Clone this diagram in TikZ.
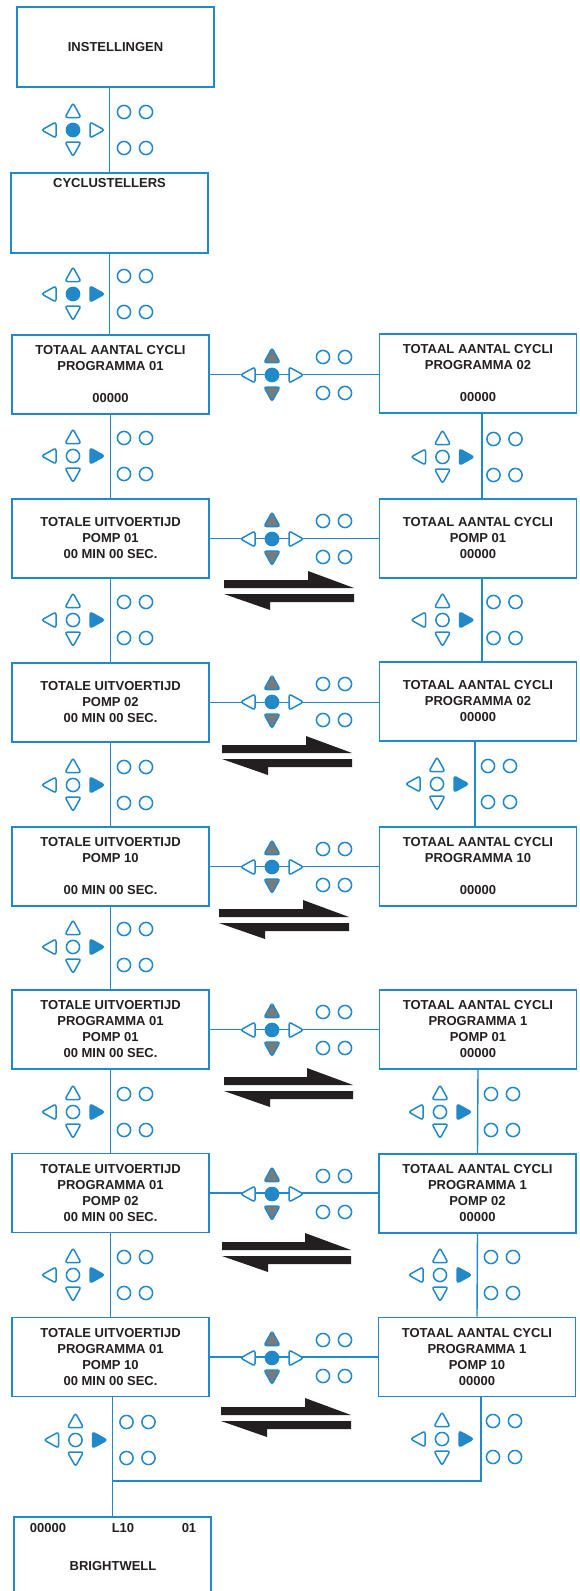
\documentclass[tikz,border=0pt]{standalone}
\usepackage{fontspec}
\setmainfont{Liberation Sans}
\usepackage{xcolor}
\usepackage{tikz}
\definecolor{KPBlue}{HTML}{2189C9}
\definecolor{KPGray}{HTML}{7A7A7A}
\definecolor{KPInk}{HTML}{231F20}

\tikzset{
  screen/.style={draw=KPBlue,line width=1.7pt,minimum width=197pt,minimum height=79pt,
    inner sep=0pt,align=center,text=KPInk,font=\bfseries\fontsize{13}{16}\selectfont},
  scrtext/.style={inner sep=0pt,text=KPInk,font=\bfseries\fontsize{13}{16}\selectfont},
  link/.style={draw=KPBlue,line width=1.4pt},
  keyline/.style={draw=KPBlue,line width=1.5pt,rounded corners=2.5pt}
}

% keypad: centre x, centre y, up/down fill, centre fill, right fill
\newcommand{\keypad}[5]{%
\begin{scope}[shift={(#1,#2)}]
\draw[keyline,fill=#3] (-8,-12.5) -- (8,-12.5) -- (0,-27) -- cycle;
\draw[keyline,fill=#3] (-8,12) -- (8,12) -- (0,26.5) -- cycle;
\draw[keyline,fill=white] (-31.5,0) -- (-17,-8) -- (-17,8) -- cycle;
\draw[keyline,fill=#5] (31.5,0) -- (17,-8) -- (17,8) -- cycle;
\draw[keyline,fill=#4] (0,0) circle[radius=6.6pt];
\draw[keyline] (51,-18) circle[radius=6.6pt];
\draw[keyline] (73,-18) circle[radius=6.6pt];
\draw[keyline] (51,18) circle[radius=6.6pt];
\draw[keyline] (73,18) circle[radius=6.6pt];
\end{scope}}

% pair of half arrows: left x, right x, top of upper shaft
\newcommand{\harpoons}[3]{%
\fill[KPInk] (#1,#3) -- (#2-46,#3) -- (#2-46,#3-9) -- (#2,#3+8) -- (#1,#3+8) -- cycle;
\fill[KPInk] (#1,#3+14) -- (#2,#3+14) -- (#2,#3+22) -- (#1+46,#3+22) -- (#1+46,#3+30) -- cycle;}

\begin{document}
\begin{tikzpicture}[x=1pt,y=-1pt]
\useasboundingbox (0,0) rectangle (579,1591);

\node[screen,minimum height=80pt] (instel) at (115.5,47) {INSTELLINGEN};
\node[screen,minimum height=80pt] (cyclus) at (109.5,213) {};
\node[scrtext,anchor=north] (cyctitle) at ([yshift=-6.5pt]cyclus.north) {CYCLUSTELLERS};

\node[screen] (l1) at (110.5,374.5) {TOTAAL AANTAL CYCLI\\PROGRAMMA 01\\[16pt]00000};
\node[screen] (r1) at (478,373.5) {TOTAAL AANTAL CYCLI\\PROGRAMMA 02\\[16pt]00000};
\node[screen] (l2) at (110.5,538.5) {TOTALE UITVOERTIJD\\POMP 01\\00 MIN 00 SEC.};
\node[screen] (r2) at (478,538.5) {TOTAAL AANTAL CYCLI\\POMP 01\\00000};
\node[screen] (l3) at (110.5,702.5) {TOTALE UITVOERTIJD\\POMP 02\\00 MIN 00 SEC.};
\node[screen] (r3) at (478,701.5) {TOTAAL AANTAL CYCLI\\PROGRAMMA 02\\00000};
\node[screen] (l4) at (110.5,866.5) {TOTALE UITVOERTIJD\\POMP 10\\[16pt]00 MIN 00 SEC.};
\node[screen] (r4) at (478,866.5) {TOTAAL AANTAL CYCLI\\PROGRAMMA 10\\[16pt]00000};
\node[screen] (l5) at (110.5,1029.5) {TOTALE UITVOERTIJD\\PROGRAMMA 01\\POMP 01\\00 MIN 00 SEC.};
\node[screen] (r5) at (478,1029.5) {TOTAAL AANTAL CYCLI\\PROGRAMMA 1\\POMP 01\\00000};
\node[screen] (l6) at (110.5,1193) {TOTALE UITVOERTIJD\\PROGRAMMA 01\\POMP 02\\00 MIN 00 SEC.};
\node[screen] (r6) at (477.5,1193.5) {TOTAAL AANTAL CYCLI\\PROGRAMMA 1\\POMP 02\\00000};
\node[screen] (l7) at (110.5,1357) {TOTALE UITVOERTIJD\\PROGRAMMA 01\\POMP 10\\00 MIN 00 SEC.};
\node[screen] (r7) at (477,1357) {TOTAAL AANTAL CYCLI\\PROGRAMMA 1\\POMP 10\\00000};

\node[screen,minimum height=77pt] (bw) at (112.5,1555.5) {};
\node[scrtext] (bwcount) at (48,1528) {00000};
\node[scrtext] (bwlevel) at (123,1528) {L10};
\node[scrtext] (bwprog) at (189,1528) {01};
\node[scrtext] (bwname) at (113,1566) {BRIGHTWELL};

% vertical links
\draw[link] (cyclus.north) -- (cyclus.north |- instel.south);
\draw[link] (cyclus.south) -- (cyclus.south |- l1.north);
\draw[link] (l1.south) -- (l2.north);
\draw[link] (l2.south) -- (l3.north);
\draw[link] (l3.south) -- (l4.north);
\draw[link] (l4.south) -- (l5.north);
\draw[link] (l5.south) -- (l6.north);
\draw[link] (l6.south) -- (l7.north);
\draw[link] ([xshift=4pt]r1.south) -- ([xshift=4pt]r2.north);
\draw[link] ([xshift=4pt]r2.south) -- ([xshift=4pt]r3.north);
\draw[link] ([xshift=-3pt]r3.south) -- ([xshift=-3pt]r4.north);
\draw[link] (r5.south) -- (r6.north);
\draw[link] (r6.south) -- (r7.north);
\coordinate (merge) at (113,1481);
\draw[link] ([xshift=4pt]r7.south) |- (merge);
\draw[link] (l7.south -| bw.north) -- (bw.north);

% horizontal links
\draw[link] (l1.east) -- (l1.east -| r1.west);
\draw[link] (l2.east) -- (l2.east -| r2.west);
\draw[link] (l3.east) -- (l3.east -| r3.west);
\draw[link] (l4.east) -- (l4.east -| r4.west);
\draw[link] (l5.east) -- (l5.east -| r5.west);
\draw[link] (l6.east) -- (l6.east -| r6.west);
\draw[link] (l7.east) -- (l7.east -| r7.west);

% keypads
\keypad{73}{130}{white}{KPBlue}{white}
\keypad{73}{294}{white}{KPBlue}{KPBlue}
\keypad{73}{456}{white}{white}{KPBlue}
\keypad{73}{620}{white}{white}{KPBlue}
\keypad{73}{785}{white}{white}{KPBlue}
\keypad{73}{947}{white}{white}{KPBlue}
\keypad{73}{1112}{white}{white}{KPBlue}
\keypad{73}{1275}{white}{white}{KPBlue}
\keypad{75.5}{1440}{white}{white}{KPBlue}
\keypad{442.5}{457}{white}{white}{KPBlue}
\keypad{442.5}{620}{white}{white}{KPBlue}
\keypad{437}{784}{white}{white}{KPBlue}
\keypad{440}{1112}{white}{white}{KPBlue}
\keypad{440}{1275}{white}{white}{KPBlue}
\keypad{442}{1439}{white}{white}{KPBlue}
\keypad{272}{375}{KPGray}{KPBlue}{white}
\keypad{272}{539}{KPGray}{KPBlue}{white}
\keypad{272}{702}{KPGray}{KPBlue}{white}
\keypad{272}{867}{KPGray}{KPBlue}{white}
\keypad{272}{1030}{KPGray}{KPBlue}{white}
\keypad{272}{1194}{KPGray}{KPBlue}{white}
\keypad{272}{1358}{KPGray}{KPBlue}{white}

% half arrows
\harpoons{224}{354}{580}
\harpoons{222}{352}{745}
\harpoons{219}{349}{909}
\harpoons{224}{353}{1077}
\harpoons{222}{351}{1242}
\harpoons{221}{351}{1407}
\end{tikzpicture}
\end{document}
